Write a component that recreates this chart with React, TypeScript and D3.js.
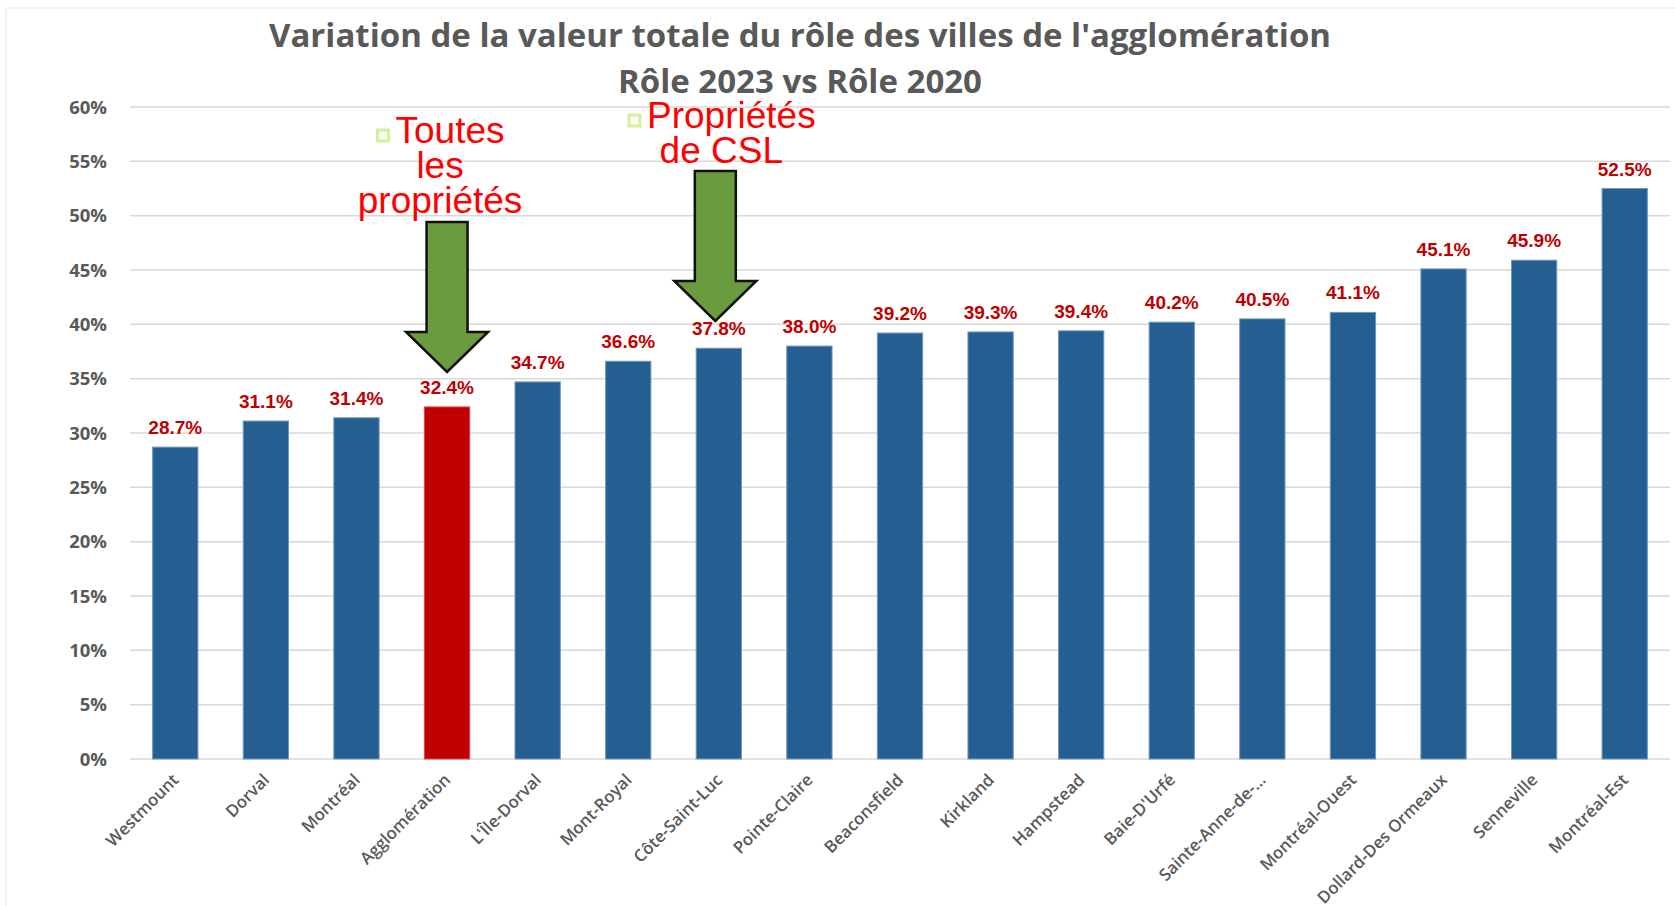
import React, { useEffect, useRef } from 'react'
import * as d3 from 'd3'

const villes = [
  'Westmount', 'Dorval', 'Montréal', 'Agglomération', "L'Île-Dorval", 'Mont-Royal',
  'Côte-Saint-Luc', 'Pointe-Claire', 'Beaconsfield', 'Kirkland', 'Hampstead', "Baie-D'Urfé",
  'Sainte-Anne-de-...', 'Montréal-Ouest', 'Dollard-Des Ormeaux', 'Senneville', 'Montréal-Est',
]
const variation = [28.7, 31.1, 31.4, 32.4, 34.7, 36.6, 37.8, 38.0, 39.2, 39.3, 39.4, 40.2, 40.5, 41.1, 45.1, 45.9, 52.5]
const yTicks = [0, 5, 10, 15, 20, 25, 30, 35, 40, 45, 50, 55, 60]
const titre = ["Variation de la valeur totale du rôle des villes de l'agglomération", 'Rôle 2023 vs Rôle 2020']
const villeMiseEnValeur = 'Agglomération'
const notes = [
  { ville: 'Agglomération', lignes: ['Toutes', 'les', 'propriétés'] },
  { ville: 'Côte-Saint-Luc', lignes: ['Propriétés', 'de CSL'] },
]

const W = 1675
const H = 906

export default function App() {
  const ref = useRef<SVGSVGElement>(null)

  useEffect(() => {
    const svg = d3.select(ref.current)
    svg.selectAll('*').remove()

    const x = d3.scaleBand<string>().domain(villes).range([130, 1670]).paddingInner(0.5).paddingOuter(0.25)
    const y = d3.scaleLinear().domain([0, 60]).range([759, 107])
    const cx = (v: string) => (x(v) ?? 0) + x.bandwidth() / 2

    // bordure de la feuille excel
    svg.append('line').attr('x1', 6).attr('x2', W).attr('y1', 8).attr('y2', 8).attr('stroke', '#e2e2e2')
    svg.append('line').attr('x1', 6).attr('x2', 6).attr('y1', 8).attr('y2', H).attr('stroke', '#e2e2e2')

    // titre
    svg.append('g').selectAll('text').data(titre).enter().append('text')
      .attr('x', 800)
      .attr('y', (d, i) => 47 + i * 46)
      .attr('text-anchor', 'middle')
      .attr('font-family', 'Open Sans')
      .attr('font-weight', 700)
      .attr('font-size', 33)
      .attr('fill', '#595959')
      .text(d => d)

    // grille + axe y
    const grid = svg.append('g')
    grid.selectAll('line').data(yTicks).enter().append('line')
      .attr('x1', 130).attr('x2', 1670)
      .attr('y1', d => y(d)).attr('y2', d => y(d))
      .attr('stroke', '#d9d9d9').attr('stroke-width', 1.5)
    grid.selectAll('text').data(yTicks).enter().append('text')
      .attr('x', 107)
      .attr('y', d => y(d) + 6.5)
      .attr('text-anchor', 'end')
      .attr('font-family', 'Open Sans')
      .attr('font-weight', 700)
      .attr('font-size', 18.5)
      .attr('fill', '#595959')
      .text(d => d + '%')

    // barres
    svg.append('g').selectAll('rect').data(variation).enter().append('rect')
      .attr('x', (d, i) => x(villes[i]) ?? 0)
      .attr('y', d => y(d))
      .attr('width', x.bandwidth())
      .attr('height', d => y(0) - y(d))
      .attr('fill', (d, i) => villes[i] === villeMiseEnValeur ? '#c00000' : '#255e91')
      .attr('stroke', (d, i) => villes[i] === villeMiseEnValeur ? '#d84a4a' : '#7098c0')
      .attr('stroke-width', 1)

    // étiquettes de valeur
    svg.append('g').selectAll('text').data(variation).enter().append('text')
      .attr('x', (d, i) => cx(villes[i]))
      .attr('y', d => y(d) - 13)
      .attr('text-anchor', 'middle')
      .attr('font-family', 'Liberation Sans')
      .attr('font-weight', 700)
      .attr('font-size', 19)
      .attr('fill', '#c00000')
      .text(d => d.toFixed(1) + '%')

    // axe x
    svg.append('g').selectAll('text').data(villes).enter().append('text')
      .attr('transform', d => `translate(${cx(d) + 4.5}, 781) rotate(-45)`)
      .attr('text-anchor', 'end')
      .attr('font-family', 'Open Sans')
      .attr('font-weight', 600)
      .attr('font-size', 16.8)
      .attr('fill', '#595959')
      .text(d => d)

    // annotations : texte rouge + flèche verte
    const placement = [
      { dxTexte: -7, yTexte: 143, dxFleche: 0, pointe: 372 },
      { dxTexte: 2.5, yTexte: 128, dxFleche: -3.5, pointe: 321 },
    ]
    notes.forEach((n, k) => {
      const p = placement[k]
      const c = cx(n.ville)
      const g = svg.append('g')
      const tc = c + p.dxTexte
      n.lignes.forEach((l, i) => {
        const t = g.append('text')
          .attr('x', i === 0 ? tc + 10 : tc)
          .attr('y', p.yTexte + i * 35)
          .attr('text-anchor', 'middle')
          .attr('font-family', 'Liberation Sans')
          .attr('font-size', 37)
          .attr('fill', '#ff0000')
          .text(l)
        if (i === 0) {
          const w = (t.node() as SVGTextElement).getComputedTextLength()
          g.append('rect')
            .attr('x', tc + 10 - w / 2 - 18).attr('y', p.yTexte - 13)
            .attr('width', 11).attr('height', 11)
            .attr('fill', '#fbfff2').attr('stroke', '#d6ee9e').attr('stroke-width', 3)
        }
      })
      const ax = c + p.dxFleche
      const tip = p.pointe
      const fleche = d3.path()
      fleche.moveTo(ax - 20.5, tip - 150)
      fleche.lineTo(ax + 20.5, tip - 150)
      fleche.lineTo(ax + 20.5, tip - 40)
      fleche.lineTo(ax + 41, tip - 40)
      fleche.lineTo(ax, tip)
      fleche.lineTo(ax - 41, tip - 40)
      fleche.lineTo(ax - 20.5, tip - 40)
      fleche.closePath()
      g.append('path').attr('d', fleche.toString())
        .attr('fill', '#6a9b3e').attr('stroke', '#111').attr('stroke-width', 2.5)
        .attr('stroke-linejoin', 'miter')
    })
  }, [])

  return (
    <svg ref={ref} width={W} height={H} style={{ position: 'absolute', left: 0, top: 0, background: '#fff' }} />
  )
}
